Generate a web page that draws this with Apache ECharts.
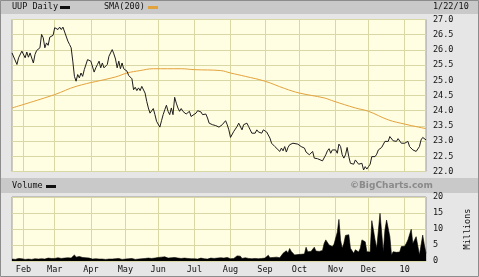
<!DOCTYPE html>
<html>
<head>
<meta charset="utf-8">
<script src="https://cdn.jsdelivr.net/npm/echarts@6/dist/echarts.min.js"></script>
<style>
html,body{margin:0;padding:0;background:#e6e6e6;}
#c{width:479px;height:277px;}
</style>
</head>
<body>
<div id="c"></div>
<script>
// ---- categories: trading days 2009-01-22 .. 2010-01-22
const startDate = '2009-01-22';
const endDate = '2010-01-22';
const holidays = ['2009-02-16','2009-04-10','2009-05-25','2009-07-03','2009-09-07','2009-11-26','2009-12-25','2010-01-01','2010-01-18'];
const monthNames = ['10','Jan','Feb','Mar','Apr','May','Jun','Jul','Aug','Sep','Oct','Nov','Dec'];

// ---- UUP daily close readings [tradingDayIndex, close]
const priceClose = [
[0,25.90],[3,25.52],[4,25.74],[6,25.96],[8,25.74],[9,25.93],[10,25.76],[11,25.90],[13,25.57],[14,25.85],[15,25.98],[17,26.07],[18,26.51],[19,26.40],[20,26.07],[21,26.23],[22,26.15],[23,26.42],[25,26.48],[26,26.73],[28,26.67],[29,26.75],[30,26.67],[31,26.75],[32,26.73],[34,26.29],[35,26.18],[36,26.07],[37,25.63],[38,25.13],[39,24.97],[40,25.19],[41,25.08],[42,25.24],[43,25.13],[44,25.35],[46,25.68],[47,25.74],[48,25.63],[50,25.27],[51,25.41],[52,25.52],[53,25.63],[54,25.41],[55,25.57],[56,25.41],[58,25.52],[59,25.79],[61,26.01],[62,25.87],[63,25.70],
[64,25.41],[65,25.63],[66,25.38],[67,25.57],[68,25.38],[69,25.35],[70,25.30],[71,25.16],[72,25.22],[73,25.05],[74,24.69],[75,24.77],[76,24.66],[77,24.75],[78,24.66],[79,24.80],[80,24.77],[81,24.58],[82,24.31],[83,24.09],[84,23.92],[85,23.98],[86,24.07],[87,23.87],[88,23.65],[89,23.60],[90,23.46],[91,23.67],[92,23.87],[93,24.03],[94,24.18],[95,23.98],[96,23.87],[97,24.09],[98,23.87],[99,24.44],[100,24.25],[101,24.09],[102,23.98],[103,24.07],[104,23.98],[105,24.03],[106,23.89],[108,23.98],[109,23.81],[110,23.87],[112,23.92],[113,24.00],[114,24.03],[115,23.96],[116,23.87],[118,23.89],[119,23.76],[120,23.59],[121,23.65],[122,23.54],[124,23.51],[125,23.48],[126,23.46],
[127,23.45],[128,23.54],[130,23.67],[131,23.54],[132,23.37],[133,23.12],[134,23.12],[135,23.32],[137,23.48],[138,23.59],[139,23.54],[140,23.37],[141,23.54],[142,23.54],[143,23.59],[144,23.48],[145,23.37],[146,23.26],[147,23.32],[148,23.26],[149,23.37],[150,23.30],[151,23.32],[152,23.26],[153,23.37],[154,23.34],[155,23.30],[157,23.10],[158,22.93],[159,22.88],[160,22.82],[161,22.77],[163,22.66],[164,22.77],[165,22.68],[166,22.82],[167,22.64],[168,22.79],[169,22.88],[170,22.82],[171,22.93],[172,22.88],[174,22.90],[175,22.93],[176,22.82],[177,22.86],[178,22.77],[179,22.64],[180,22.68],[181,22.55],[183,22.66],[184,22.44],[185,22.49],[186,22.42],[187,22.46],[189,22.35],[190,22.38],
[191,22.55],[192,22.68],[193,22.75],[194,22.60],[195,22.71],[196,22.66],[197,22.71],[198,22.60],[199,22.90],[200,22.82],[201,22.55],[202,22.44],[203,22.55],[204,22.79],[205,22.49],[206,22.27],[207,22.33],[208,22.24],[209,22.38],[210,22.33],[211,22.24],[212,22.22],[213,22.27],[214,22.05],[215,22.16],[216,22.08],[217,22.16],[218,22.24],[219,22.49],[220,22.53],[221,22.49],[222,22.57],[223,22.71],[224,22.68],[225,22.79],[226,22.82],[227,22.99],[228,23.04],[229,22.99],[230,23.15],[231,23.10],[232,23.01],[233,23.04],[234,22.99],[235,23.08],[236,23.04],[237,22.93],[238,22.99],[239,22.93],[240,22.99],[241,22.99],[242,22.82],[243,22.77],[244,22.71],[246,22.66],[247,22.71],[248,22.82],[249,23.04],[250,23.12],[251,23.10],[252,23.04]
];

// ---- SMA(200) readings [tradingDayIndex, value]
const sma200 = [
[0,24.09],[26,24.53],[39,24.80],[63,25.11],[70,25.24],[78,25.32],[86,25.38],[103,25.38],[111,25.35],[127,25.32],[133,25.24],[142,25.13],[154,24.97],[166,24.73],[175,24.58],[190,24.42],[196,24.31],[209,24.09],[217,23.98],[229,23.70],[239,23.56],[252,23.41]
];

// ---- daily volume (millions)
const volume = [
0.6,0.7,0.5,0.6,0.8,0.6,0.7,
0.6,0.5,0.7,0.6,0.8,0.5,0.6,0.7,0.9,0.6,0.5,0.7,0.8,0.6,0.7,0.9,0.6,0.8,0.7,
0.8,0.7,1.0,0.9,0.8,1.1,0.9,1.2,1.0,1.3,0.9,1.5,1.9,1.2,1.0,1.4,0.9,1.1,0.8,1.0,0.7,0.9,
0.7,0.6,0.8,0.7,0.5,0.6,0.7,0.6,0.8,0.5,0.7,0.6,0.9,0.6,0.5,0.7,0.6,0.8,0.6,0.5,0.7,
0.6,0.5,0.7,0.6,0.8,0.6,0.5,0.7,0.6,0.9,0.7,0.6,0.8,0.7,0.9,0.6,0.8,0.7,0.9,1.0,
1.1,0.9,1.2,1.0,1.3,1.1,0.9,1.2,1.0,0.8,1.1,1.3,0.9,1.0,0.8,1.2,0.9,0.7,0.8,1.0,0.7,0.8,
0.7,0.8,0.6,0.7,0.9,0.6,0.7,0.8,0.6,0.7,0.9,0.7,0.8,1.4,0.9,0.8,1.0,1.2,0.9,1.3,1.1,0.8,
0.7,0.6,0.8,0.9,1.6,1.9,1.5,0.8,0.7,1.0,1.35,0.8,0.6,0.7,0.6,0.8,1.0,0.7,0.6,0.8,0.7,
0.9,1.2,1.8,1.0,0.9,1.1,1.6,1.2,0.9,1.0,1.3,2.4,2.8,3.2,2.5,3.9,3.0,2.4,1.9,1.8,2.0,
1.9,2.1,1.8,2.2,4.3,2.9,2.6,3.0,2.8,4.3,3.1,3.4,3.0,3.6,3.3,5.5,6.6,6.8,5.0,4.8,4.5,5.2,
5.0,9.0,13.0,6.5,4.0,5.5,8.0,8.6,8.2,4.0,3.2,2.4,3.5,3.0,2.8,4.0,6.6,6.4,6.0,2.9,
3.0,2.8,12.6,9.7,6.6,4.0,3.5,14.9,14.5,2.9,9.7,12.8,12.5,7.6,1.9,2.9,3.0,2.7,3.1,2.8,4.5,4.4,
4.6,5.5,6.6,6.0,9.9,5.5,6.6,7.6,7.0,1.9,5.0,8.1,5.0,2.4
];

const priceTicks = {min:22, max:27, interval:0.5};
const volumeTicks = {min:0, max:20, interval:5};

// build trading-day categories
function pad(n){return (n<10?'0':'')+n;}
const dates = [];
(function(){
  const d = new Date(startDate+'T12:00:00Z');
  const end = new Date(endDate+'T12:00:00Z');
  while (d <= end) {
    const s = d.getUTCFullYear()+'-'+pad(d.getUTCMonth()+1)+'-'+pad(d.getUTCDate());
    const wd = d.getUTCDay();
    if (wd !== 0 && wd !== 6 && holidays.indexOf(s) < 0) dates.push(s);
    d.setUTCDate(d.getUTCDate()+1);
  }
})();
const monthStart = new Set();
for (let i = 1; i < dates.length; i++) {
  if (dates[i].slice(5,7) !== dates[i-1].slice(5,7)) monthStart.add(i);
}
function monthLabel(s){
  const m = parseInt(s.slice(5,7),10);
  return m === 1 ? '10' : monthNames[m];
}

const FONT = '"DejaVu Sans Mono", monospace';
const gridColor = '#d9d7a4';
const plotBg = '#fffde2';

function xAxis(gi, showLabel){
  return {
    type:'category', gridIndex:gi, data:dates, boundaryGap:false,
    axisLine:{show:false}, axisTick:{show:false},
    splitLine:{show:true, interval:(i)=>monthStart.has(i), lineStyle:{color:gridColor, width:1}},
    axisLabel:{show:showLabel, interval:(i)=>monthStart.has(i), formatter:(v)=>monthLabel(v),
      fontFamily:FONT, fontSize:8.5, color:'#111', margin:4}
  };
}

const chart = echarts.init(document.getElementById('c'), null, {renderer:'canvas'});
chart.setOption({
  animation:false,
  backgroundColor:'#e6e6e6',
  grid:[
    {left:12, top:19.5, width:414, height:152, show:true, backgroundColor:plotBg, borderColor:'#9a9a9a', borderWidth:1},
    {left:12, top:197, width:414, height:64, show:true, backgroundColor:plotBg, borderColor:'#9a9a9a', borderWidth:1}
  ],
  xAxis:[xAxis(0,false), xAxis(1,true)],
  yAxis:[
    {type:'value', gridIndex:0, position:'right', min:priceTicks.min, max:priceTicks.max, interval:priceTicks.interval,
     axisLine:{show:false}, axisTick:{show:false},
     splitLine:{lineStyle:{color:gridColor}},
     axisLabel:{formatter:(v)=>v.toFixed(1), fontFamily:FONT, fontSize:8.5, color:'#111', margin:7}},
    {type:'value', gridIndex:1, position:'right', min:volumeTicks.min, max:volumeTicks.max, interval:volumeTicks.interval,
     axisLine:{show:false}, axisTick:{show:false},
     splitLine:{lineStyle:{color:gridColor}},
     axisLabel:{fontFamily:FONT, fontSize:8.5, color:'#111', margin:7}}
  ],
  series:[
    {type:'line', name:'SMA(200)', xAxisIndex:0, yAxisIndex:0, data:sma200, smooth:0.4, showSymbol:false,
     lineStyle:{color:'#e3a33c', width:1}, z:3},
    {type:'line', name:'UUP Daily', xAxisIndex:0, yAxisIndex:0, data:priceClose, showSymbol:false,
     lineStyle:{color:'#1e1e1e', width:1}, z:4},
    {type:'line', name:'Volume', xAxisIndex:1, yAxisIndex:1, data:volume, showSymbol:false,
     lineStyle:{color:'#000', width:0.6}, areaStyle:{color:'#000', opacity:1}, z:3}
  ],
  graphic:[
    {type:'rect', z:-10, shape:{x:0,y:0,width:479,height:14}, style:{fill:'#c9c9c9'}},
    {type:'rect', z:-10, shape:{x:0,y:178,width:479,height:15}, style:{fill:'#c9c9c9'}},
    {type:'rect', z:-9, shape:{x:0.5,y:0.5,width:478,height:276}, style:{fill:null, stroke:'#8c8c8c', lineWidth:1}},
    {type:'text', z:100, left:12, top:2, style:{text:'UUP Daily', font:'8.5px '+FONT, fill:'#111'}},
    {type:'rect', z:100, shape:{x:60,y:6,width:10,height:3}, style:{fill:'#111'}},
    {type:'text', z:100, left:104, top:2, style:{text:'SMA(200)', font:'8.5px '+FONT, fill:'#111'}},
    {type:'rect', z:100, shape:{x:148,y:6,width:10,height:3}, style:{fill:'#e3a33c'}},
    {type:'text', z:100, left:433, top:2, style:{text:'1/22/10', font:'8.5px '+FONT, fill:'#111'}},
    {type:'text', z:100, left:12, top:181, style:{text:'Volume', font:'8.5px '+FONT, fill:'#111'}},
    {type:'rect', z:100, shape:{x:46,y:185,width:10,height:3}, style:{fill:'#111'}},
    {type:'text', z:100, left:350, top:181, style:{text:'\u00A9BigCharts.com', font:'bold 9px "DejaVu Sans", sans-serif', fill:'#8a8a8a'}},
    {type:'text', z:100, x:468, y:229, rotation:Math.PI/2, style:{text:'Millions', font:'8.5px '+FONT, fill:'#111', align:'center', verticalAlign:'middle'}}
  ]
});
</script>
</body>
</html>
